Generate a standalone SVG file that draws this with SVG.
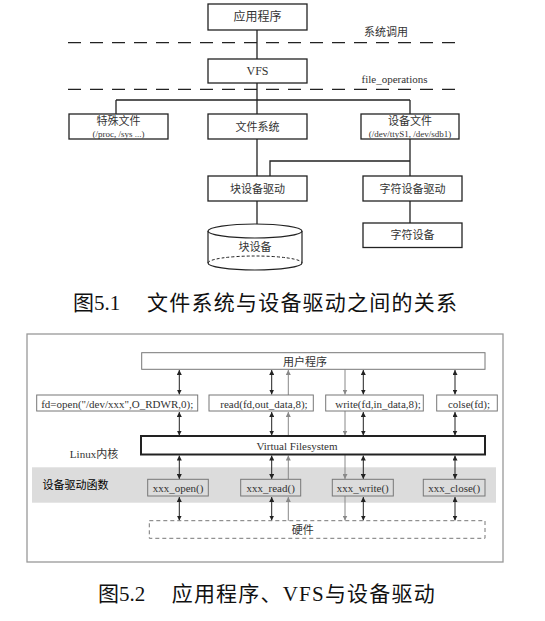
<svg xmlns="http://www.w3.org/2000/svg" width="545" height="621" viewBox="0 0 545 621">
<style>
text{font-family:"Liberation Serif","Noto Sans CJK SC",serif;fill:#333;text-anchor:middle;dominant-baseline:central}
.b{fill:#fff;stroke:#222;stroke-width:1.3}
.ln{stroke:#222;stroke-width:1.3;fill:none}
.t12{font-size:12px}
.t11{font-size:11px}
.t9{font-size:9px}
.cap{font-size:21px;fill:#111;text-anchor:start}
.g{fill:#fff;stroke:#777;stroke-width:1}
.gd{fill:#dcdcdc;stroke:#777;stroke-width:1}
.ab{stroke:#222;stroke-width:1;fill:none}
.ag{stroke:#888;stroke-width:1;fill:none}
</style>
<defs>
<marker id="hb" viewBox="0 0 10 10" refX="10" refY="5" markerWidth="5" markerHeight="5" markerUnits="userSpaceOnUse" orient="auto-start-reverse"><path d="M0,0L10,5L0,10z" fill="#222"/></marker>
<marker id="hg" viewBox="0 0 10 10" refX="10" refY="5" markerWidth="5" markerHeight="5" markerUnits="userSpaceOnUse" orient="auto-start-reverse"><path d="M0,0L10,5L0,10z" fill="#888"/></marker>
</defs>
<rect width="545" height="621" fill="#fff"/>

<!-- Figure 5.1 -->
<g id="sep-lines">
<line x1="68" y1="42.7" x2="457" y2="42.7" stroke="#222" stroke-width="1.3" stroke-dasharray="13,9"/>
<line x1="68" y1="89.3" x2="457" y2="89.3" stroke="#222" stroke-width="1.3" stroke-dasharray="13,9"/>
<text x="386" y="32" class="t11">系统调用</text>
<text x="394.5" y="78.5" class="t11">file_operations</text>
</g>
<g id="connectors-top">
<path class="ln" d="M257,30V59M257,83V100M116,100H410M116,100V114M257,100V114M410,100V114M257,139V176M410,139V176M410,161H270V176M257,201V224M410,201V223"/>
</g>
<g id="app"><rect class="b" x="208" y="4" width="99" height="26"/><text x="257.5" y="17" class="t12">应用程序</text></g>
<g id="vfs"><rect class="b" x="208" y="59" width="99" height="24"/><text x="257.5" y="71" class="t12">VFS</text></g>
<g id="special"><rect class="b" x="69" y="114" width="99" height="25"/><text x="118.5" y="120.5" class="t11">特殊文件</text><text x="118.5" y="134" class="t9">(/proc, /sys ...)</text></g>
<g id="fs"><rect class="b" x="208" y="114" width="99" height="25"/><text x="257.5" y="126.5" class="t11">文件系统</text></g>
<g id="devfile"><rect class="b" x="361" y="114" width="98" height="25"/><text x="410" y="120.5" class="t11">设备文件</text><text x="410" y="134" class="t9">(/dev/ttyS1, /dev/sdb1)</text></g>
<g id="blkdrv"><rect class="b" x="208" y="176" width="99" height="25"/><text x="257.5" y="188.5" class="t11">块设备驱动</text></g>
<g id="chrdrv"><rect class="b" x="363" y="176" width="99" height="25"/><text x="412.5" y="188.5" class="t11">字符设备驱动</text></g>
<g id="blkdev">
<path d="M208,231V263A47,7 0 0 0 302,263V231" fill="#fff" stroke="#222" stroke-width="1.2"/>
<path d="M208,263A47,7 0 0 1 302,263" fill="none" stroke="#222" stroke-width="1" stroke-dasharray="3,2"/>
<ellipse cx="255" cy="231" rx="47" ry="7" fill="#fff" stroke="#222" stroke-width="1.2"/>
<text x="255" y="246.5" class="t11">块设备</text>
</g>
<g id="chrdev"><rect class="b" x="363" y="223" width="99" height="24.5"/><text x="412.5" y="235.3" class="t11">字符设备</text></g>
<g id="caption1">
<text x="73" y="303" class="cap">图5.1</text>
<text x="147" y="303" class="cap" textLength="310" lengthAdjust="spacing">文件系统与设备驱动之间的关系</text>
</g>

<!-- Figure 5.2 -->
<g id="frame">
<rect x="27" y="334" width="476" height="228" fill="#fff" stroke="#999" stroke-width="1.3"/>
<rect x="32" y="467.3" width="464" height="35.4" fill="#dcdcdc"/>
<text x="94" y="454" class="t11">Linux内核</text>
<text x="75.5" y="485" class="t11" style="fill:#000">设备驱动函数</text>
</g>
<g id="connectors">
<g class="ab" marker-start="url(#hb)" marker-end="url(#hb)">
<line x1="179.3" y1="370" x2="179.3" y2="394.5"/><line x1="179.3" y1="412" x2="179.3" y2="435.5"/><line x1="179.3" y1="455.5" x2="179.3" y2="479"/><line x1="179.3" y1="497" x2="179.3" y2="520.5"/>
<line x1="271.7" y1="370" x2="271.7" y2="394.5"/><line x1="271.7" y1="412" x2="271.7" y2="435.5"/><line x1="271.7" y1="455.5" x2="271.7" y2="479"/><line x1="271.7" y1="497" x2="271.7" y2="520.5"/>
<line x1="363.3" y1="370" x2="363.3" y2="394.5"/><line x1="363.3" y1="412" x2="363.3" y2="435.5"/><line x1="363.3" y1="455.5" x2="363.3" y2="479"/><line x1="363.3" y1="497" x2="363.3" y2="520.5"/>
<line x1="455" y1="370" x2="455" y2="394.5"/><line x1="455" y1="412" x2="455" y2="435.5"/><line x1="455" y1="455.5" x2="455" y2="479"/><line x1="455" y1="497" x2="455" y2="520.5"/>
</g>
<g class="ag" marker-end="url(#hg)">
<line x1="288.3" y1="395" x2="288.3" y2="370"/><line x1="288.3" y1="436" x2="288.3" y2="412"/><line x1="288.3" y1="479" x2="288.3" y2="455.5"/><line x1="288.3" y1="521" x2="288.3" y2="497"/>
<line x1="345" y1="369.5" x2="345" y2="394.5"/><line x1="345" y1="411" x2="345" y2="435.5"/><line x1="345" y1="455" x2="345" y2="479"/><line x1="345" y1="496" x2="345" y2="520.5"/>
</g>
</g>
<g id="user"><rect class="g" x="141.7" y="352.7" width="343.3" height="16.6"/><text x="305" y="361.5" class="t11">用户程序</text></g>
<g id="f-open"><rect class="g" x="36.7" y="395" width="161" height="16"/><text x="117.2" y="403.5" class="t11">fd=open("/dev/xxx",O_RDWR,0);</text></g>
<g id="f-read"><rect class="g" x="209" y="395" width="104.3" height="16"/><text x="264" y="403.5" class="t11">read(fd,out_data,8);</text></g>
<g id="f-write"><rect class="g" x="325.7" y="395" width="97.6" height="16"/><text x="378" y="403.5" class="t11">write(fd,in_data,8);</text></g>
<g id="f-close"><rect class="g" x="436.7" y="395" width="60.6" height="16"/><text x="469" y="403.5" class="t11">colse(fd);</text></g>
<g id="vfs2"><rect x="141" y="436" width="344" height="18.5" fill="#fff" stroke="#222" stroke-width="2"/><text x="297" y="445.5" class="t11">Virtual Filesystem</text></g>
<g id="d-open"><rect class="gd" x="147.7" y="479.3" width="60.6" height="16.7"/><text x="178" y="488" class="t11">xxx_open()</text></g>
<g id="d-read"><rect class="gd" x="240.7" y="479.3" width="60" height="16.7"/><text x="270.7" y="488" class="t11">xxx_read()</text></g>
<g id="d-write"><rect class="gd" x="332.3" y="479.3" width="61" height="16.7"/><text x="362.8" y="488" class="t11">xxx_write()</text></g>
<g id="d-close"><rect class="gd" x="423.3" y="479.3" width="61.7" height="16.7"/><text x="454.2" y="488" class="t11">xxx_close()</text></g>
<g id="hw"><rect x="149.3" y="520.7" width="335.7" height="17.6" fill="#fff" stroke="#777" stroke-width="1" stroke-dasharray="4,3"/><text x="302.7" y="530" class="t11">硬件</text></g>
<g id="caption2">
<text x="98" y="594" class="cap">图5.2</text>
<text x="171.7" y="594" class="cap" textLength="263" lengthAdjust="spacing">应用程序、VFS与设备驱动</text>
</g>
</svg>
